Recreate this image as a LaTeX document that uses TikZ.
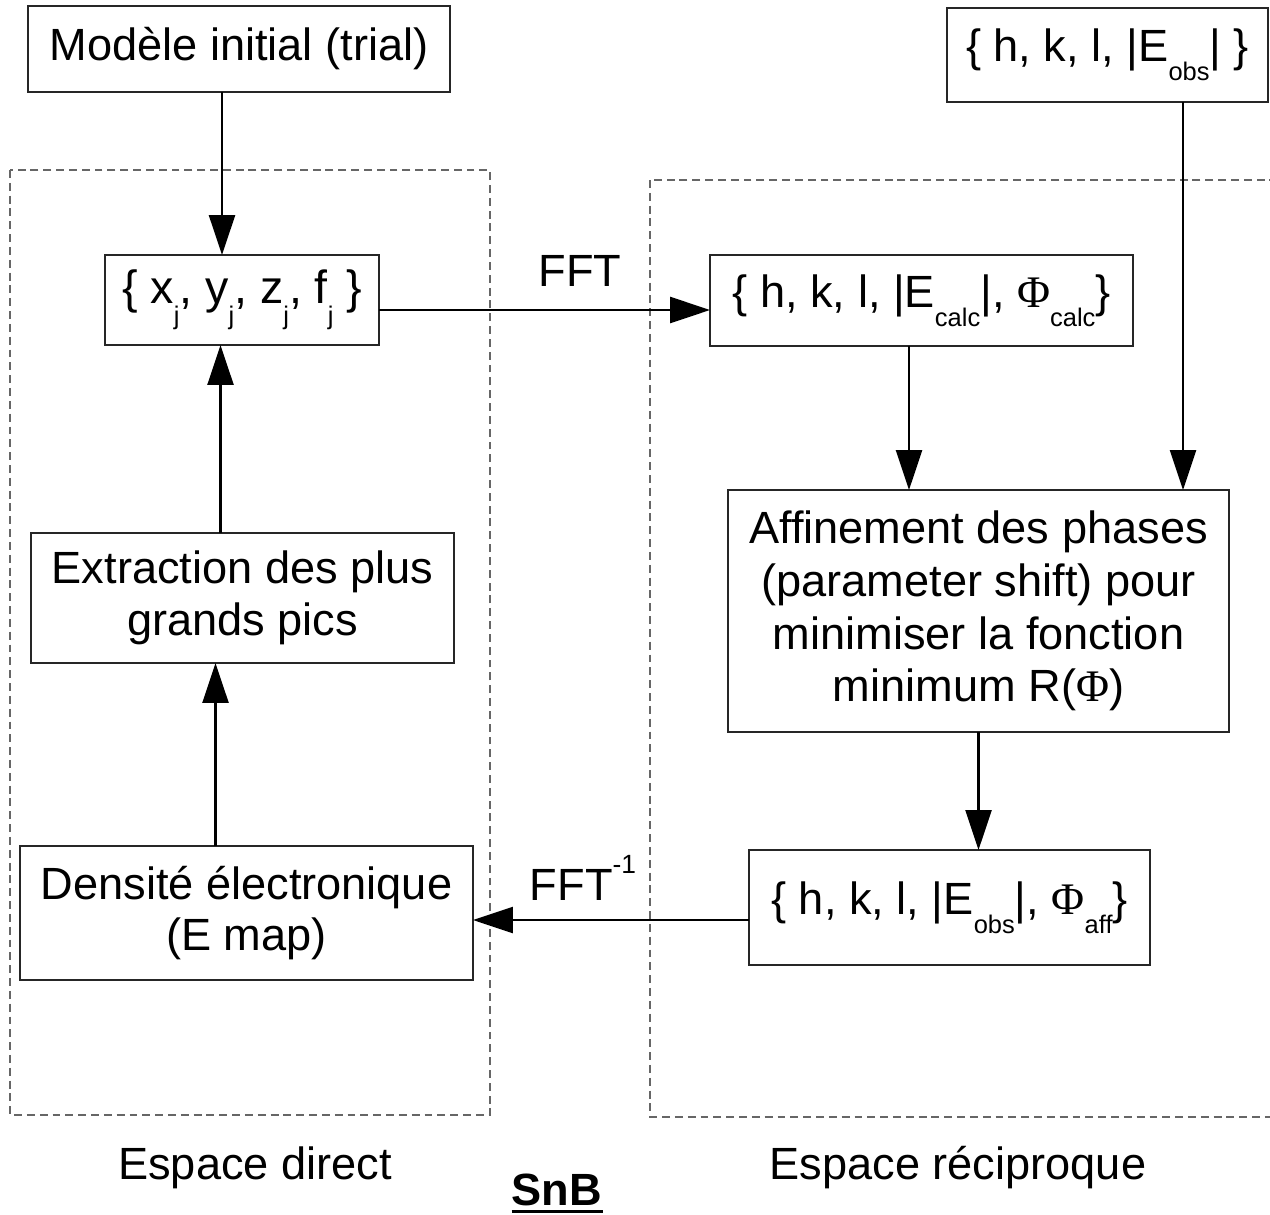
\documentclass[tikz,border=0pt]{standalone}
\usepackage{fontspec}
\setmainfont{Liberation Sans}
\newfontfamily\phifont{Liberation Serif}
\usetikzlibrary{arrows.meta}
\newcommand\sbs[1]{\raisebox{-0.42em}{\fontsize{14.5}{14.5}\selectfont #1}}
\newcommand\sbj[1]{\raisebox{-0.45em}{\fontsize{14.5}{14.5}\selectfont #1}}
\newcommand\sps[1]{\raisebox{0.6em}{\fontsize{15}{15}\selectfont #1}}
\newcommand\Phis{{\phifont Φ}}
\begin{document}
\begin{tikzpicture}[x=0.02cm,y=-0.02cm,
  every node/.style={font=\fontsize{25.7}{29.5}\selectfont},
  box/.style={draw=black!85,line width=0.8pt,inner sep=0pt,outer sep=0pt,align=center},
  region/.style={draw=black!60,line width=0.8pt,dash pattern=on 4.5pt off 2.8pt},
  arr/.style={-{Triangle[length=0.8cm,width=0.52cm]},line width=1.4pt},
  lbl/.style={inner sep=0pt}]
\useasboundingbox (0,0) rectangle (1270,1214);
\fill[white] (0,0) rectangle (1270,1214);
% regions
\draw[region] (10,170) rectangle (490,1115);
\draw[region] (650,180) rectangle (1290,1117);
% boxes
\node[box,minimum width=8.44cm,minimum height=1.72cm] (init) at (239,49) {Modèle initial (trial)};
\node[box,minimum width=6.42cm,minimum height=1.88cm] (obs) at (1107.5,55) {\{ h, k, l, |E\sbs{obs}| \}};
\node[box,minimum width=5.48cm,minimum height=1.80cm,font=\fontsize{26.5}{29.5}\selectfont] (xj) at (242,300) {\{ x\sbj{j}, y\sbj{j}, z\sbj{j}, f\sbj{j} \}};
\node[box,minimum width=8.46cm,minimum height=1.82cm] (calc) at (921.5,300.5) {\{ h, k, l, |E\sbs{calc}|, \Phis\sbs{calc}\}};
\node[box,minimum width=8.46cm,minimum height=2.60cm] (extr) at (242.5,598) {Extraction des plus\\grands pics};
\node[box,minimum width=9.06cm,minimum height=2.68cm] (dens) at (246.5,913) {Densité électronique\\(E map)};
\node[box,minimum width=10.02cm,minimum height=4.84cm,font=\fontsize{25.7}{30}\selectfont] (aff) at (978.5,611) {Affinement des phases\\(parameter shift) pour\\minimiser la fonction\\minimum R(\Phis)};
\node[box,minimum width=8.02cm,minimum height=2.30cm] (eaff) at (949.5,907.5) {\{ h, k, l, |E\sbs{obs}|, \Phis\sbs{aff}\}};
% labels
\node[lbl] (fft) at (580,271) {FFT};
\node[lbl] (ffti) at (583,878) {FFT\sps{-1}};
\node[lbl] (dir) at (255,1168) {Espace direct};
\node[lbl] (rec) at (958,1168) {Espace réciproque};
\node[lbl] (snb) at (557,1190) {\textbf{SnB}};
\draw[line width=1.6pt] ([yshift=-0.12cm]snb.base west) -- ([yshift=-0.12cm]snb.base east);
% arrows
\draw[arr] ([shift={(-17,0)}]init.south) -- ([shift={(-17,0)}]init.south |- xj.north);
\draw[arr] ([shift={(-22,0)}]extr.north) -- ([shift={(-22,0)}]extr.north |- xj.south);
\draw[arr] ([shift={(-31,0)}]dens.north) -- ([shift={(-31,0)}]dens.north |- extr.south);
\draw[arr] ([shift={(0,10)}]xj.east) -- ([shift={(0,10)}]xj.east -| calc.west);
\draw[arr] ([shift={(-12.5,0)}]calc.south) -- ([shift={(-12.5,0)}]calc.south |- aff.north);
\draw[arr] ([shift={(75.5,0)}]obs.south) -- ([shift={(75.5,0)}]obs.south |- aff.north);
\draw[arr] (aff.south) -- (aff.south |- eaff.north);
\draw[arr] ([shift={(0,12.5)}]eaff.west) -- ([shift={(0,12.5)}]eaff.west -| dens.east);
\end{tikzpicture}
\end{document}
